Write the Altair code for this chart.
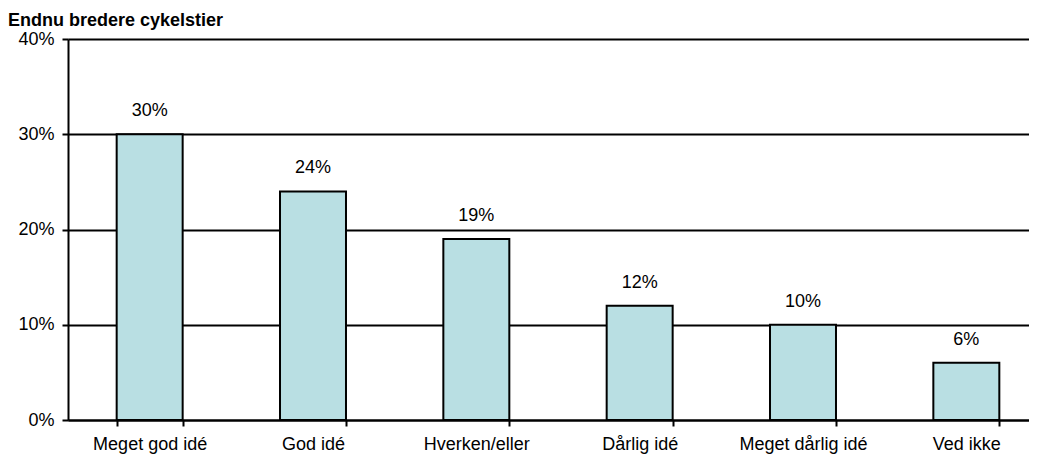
import altair as alt
import pandas as pd

categories = ["Meget god idé", "God idé", "Hverken/eller", "Dårlig idé", "Meget dårlig idé", "Ved ikke"]
values = [0.30, 0.24, 0.19, 0.12, 0.10, 0.06]
labels = ["30%", "24%", "19%", "12%", "10%", "6%"]
title_text = "Endnu bredere cykelstier"

df = pd.DataFrame({"kategori": categories, "andel": values, "label": labels})

FONT = "Liberation Sans"

x = alt.X("kategori:N", sort=categories, title=None,
          scale=alt.Scale(paddingInner=0.596, paddingOuter=0.298, range=[0, 980]),
          axis=alt.Axis(labelAngle=0, labelFont=FONT, labelFontSize=18,
                        labelColor="black", labelPadding=9, domainColor="black",
                        domainWidth=2, tickColor="black", tickWidth=2, tickSize=6,
                        tickBand="extent", grid=False))
y = alt.Y("andel:Q", title=None,
          scale=alt.Scale(domain=[0, 0.4], nice=False),
          axis=alt.Axis(format=".0%", values=[0, 0.1, 0.2, 0.3, 0.4],
                        labelFont=FONT, labelFontSize=18, labelColor="black",
                        labelPadding=8, domainColor="black", domainWidth=2,
                        tickColor="black", tickWidth=2, tickSize=6,
                        grid=True, gridColor="black", gridWidth=2))

bars = alt.Chart(df).mark_bar(fill="#b9dfe3", stroke="black", strokeWidth=2).encode(x=x, y=y)
text = alt.Chart(df).mark_text(dy=-23, font=FONT, fontSize=18, color="black").encode(
    x=alt.X("kategori:N", sort=categories), y="andel:Q", text="label:N")

chart = (bars + text).properties(
    width=961, height=381,
    title=alt.TitleParams(title_text, anchor="start", font=FONT, fontSize=18,
                          fontWeight="bold", color="black", offset=4, frame="group",
                          dx=-60, dy=4),
    autosize=alt.AutoSizeParams(type="none"),
    padding={"left": 60, "right": 0, "top": 31, "bottom": 34},
).configure_view(stroke=None).configure(background="white")

chart.save("out.html", embed_options={"renderer": "svg", "actions": False})
